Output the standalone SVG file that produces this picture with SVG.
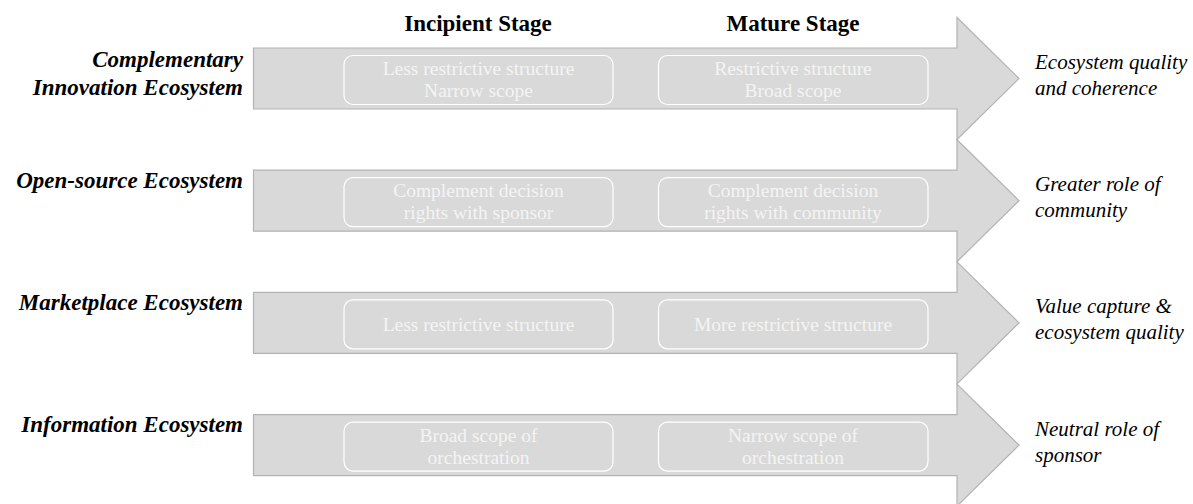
<svg xmlns="http://www.w3.org/2000/svg" width="1193" height="504" viewBox="0 0 1193 504">
<style>
.arrow{fill:#d9d9d9;stroke:#b3b3b3;stroke-width:1.2}
.box{fill:none;stroke:#ffffff;stroke-width:1.2}
.bt{font-size:19.5px;fill:#f4f4f4;text-anchor:middle}
.hd{font-size:23px;font-weight:bold;fill:#000;text-anchor:middle}
.lb{font-size:23px;font-weight:bold;font-style:italic;fill:#000;text-anchor:end}
.rl{font-size:21px;font-style:italic;fill:#000}
</style>
<rect width="1193" height="504" fill="#ffffff"/>
<g id="headers" font-family="'Liberation Serif', 'DejaVu Serif', serif">
<text class="hd" x="478" y="31">Incipient Stage</text>
<text class="hd" x="793" y="31">Mature Stage</text>
</g>
<g id="connectors">
<path class="arrow" d="M253.5,48 H957 V17.5 L1019,78.5 L957,139.5 V109 H253.5 Z"/>
<path class="arrow" d="M253.5,170.2 H957 V139.7 L1019,200.7 L957,261.7 V231.2 H253.5 Z"/>
<path class="arrow" d="M253.5,292.4 H957 V261.9 L1019,322.9 L957,383.9 V353.4 H253.5 Z"/>
<path class="arrow" d="M253.5,414.6 H957 V384.1 L1019,445.1 L957,506.1 V475.6 H253.5 Z"/>
</g>
<g id="row1" font-family="'Liberation Serif', 'DejaVu Serif', serif">
<text class="lb" x="243" y="67">Complementary</text>
<text class="lb" x="243" y="95">Innovation Ecosystem</text>
<rect class="box" x="344" y="55.5" width="269" height="49" rx="9"/>
<text class="bt" x="478.5" y="75">Less restrictive structure</text>
<text class="bt" x="478.5" y="97">Narrow scope</text>
<rect class="box" x="658.5" y="55.5" width="269.5" height="49" rx="9"/>
<text class="bt" x="793" y="75">Restrictive structure</text>
<text class="bt" x="793" y="97">Broad scope</text>
<text class="rl" x="1035" y="69">Ecosystem quality</text>
<text class="rl" x="1035" y="95">and coherence</text>
</g>
<g id="row2" font-family="'Liberation Serif', 'DejaVu Serif', serif">
<text class="lb" x="243" y="188">Open-source Ecosystem</text>
<rect class="box" x="344" y="177.7" width="269" height="49" rx="9"/>
<text class="bt" x="478.5" y="197.2">Complement decision</text>
<text class="bt" x="478.5" y="219.2">rights with sponsor</text>
<rect class="box" x="658.5" y="177.7" width="269.5" height="49" rx="9"/>
<text class="bt" x="793" y="197.2">Complement decision</text>
<text class="bt" x="793" y="219.2">rights with community</text>
<text class="rl" x="1035" y="191.2">Greater role of</text>
<text class="rl" x="1035" y="217.2">community</text>
</g>
<g id="row3" font-family="'Liberation Serif', 'DejaVu Serif', serif">
<text class="lb" x="243" y="310">Marketplace Ecosystem</text>
<rect class="box" x="344" y="299.9" width="269" height="49" rx="9"/>
<text class="bt" x="478.5" y="331">Less restrictive structure</text>
<rect class="box" x="658.5" y="299.9" width="269.5" height="49" rx="9"/>
<text class="bt" x="793" y="331">More restrictive structure</text>
<text class="rl" x="1035" y="313.4">Value capture &amp;</text>
<text class="rl" x="1035" y="339.4">ecosystem quality</text>
</g>
<g id="row4" font-family="'Liberation Serif', 'DejaVu Serif', serif">
<text class="lb" x="243" y="432">Information Ecosystem</text>
<rect class="box" x="344" y="422.1" width="269" height="49" rx="9"/>
<text class="bt" x="478.5" y="441.6">Broad scope of</text>
<text class="bt" x="478.5" y="463.6">orchestration</text>
<rect class="box" x="658.5" y="422.1" width="269.5" height="49" rx="9"/>
<text class="bt" x="793" y="441.6">Narrow scope of</text>
<text class="bt" x="793" y="463.6">orchestration</text>
<text class="rl" x="1035" y="435.6">Neutral role of</text>
<text class="rl" x="1035" y="461.6">sponsor</text>
</g>
</svg>
